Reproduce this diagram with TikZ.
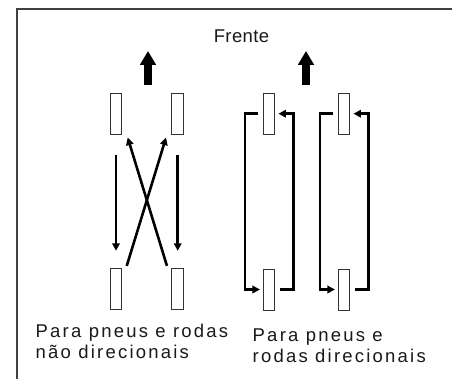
\documentclass[tikz,border=0pt]{standalone}
\usepackage{fontspec}
\setmainfont{Liberation Sans}
\newfontfamily\captfont[LetterSpace=12]{Liberation Sans}
\newfontfamily\frontfont[LetterSpace=2]{Liberation Sans}
\usetikzlibrary{arrows.meta}
\tikzset{
  wheel/.style={draw=black!80,line width=1pt,minimum width=11.5pt,minimum height=41pt,inner sep=0pt},
  swap/.style={line width=2.6pt,-{Triangle[length=7.5pt,width=7.5pt]}},
  caption/.style={anchor=north west,inner sep=0pt,align=left,text=black!90,
    font=\fontsize{18.5}{21}\selectfont\captfont}
}
\begin{document}
\begin{tikzpicture}[x=1pt,y=-1pt]
\useasboundingbox (0,0) rectangle (452,379);
\draw[line width=1.5pt,black!75] (17,379) -- (17,9) -- (452,9);
\node[text=black!90,font=\fontsize{18.5}{20}\selectfont\frontfont] (front) at (241.5,36.6) {Frente};
\foreach \x in {148,306}
  \draw[line width=8pt,-{Triangle[length=14pt,width=15.5pt]}] (\x,85) -- (\x,51);
% wheels
\foreach \n/\x/\y in {nfl/116/113.7,nfr/177.7/113.7,nrl/116/289.3,nrr/177.7/289.3,
                      d1f/269.2/113.7,d1r/269.2/289.5,d2f/344.2/113.7,d2r/344.2/289.5}
  \node[wheel] (\n) at (\x,\y) {};
% non directional
\draw[swap,shorten <=20pt,shorten >=17.5pt] (nfl.south) -- (nrl.north);
\draw[swap,shorten <=20pt,shorten >=17.5pt] (nfr.south) -- (nrr.north);
\draw[swap,shorten <=2.5pt,shorten >=3pt] ([xshift=10pt]nrl.north) -- ([xshift=-10.8pt]nfr.south);
\draw[swap,shorten <=2.5pt,shorten >=3pt] ([xshift=-10pt]nrr.north) -- ([xshift=10.8pt]nfl.south);
% directional
\foreach \s in {d1,d2}{
  \draw[swap,shorten <=4.5pt,shorten >=3pt] (\s f.west) -- ++(-18,0) |- (\s r.west);
  \draw[swap,shorten <=4.5pt,shorten >=3pt] (\s r.east) -- ++(18,0) |- (\s f.east);
}
\node[caption] (ndcap) at (35.5,323.5) {Para pneus e rodas\\não direcionais};
\node[caption] (dcap) at (252.5,328.5) {Para pneus e\\rodas direcionais};
\end{tikzpicture}
\end{document}
